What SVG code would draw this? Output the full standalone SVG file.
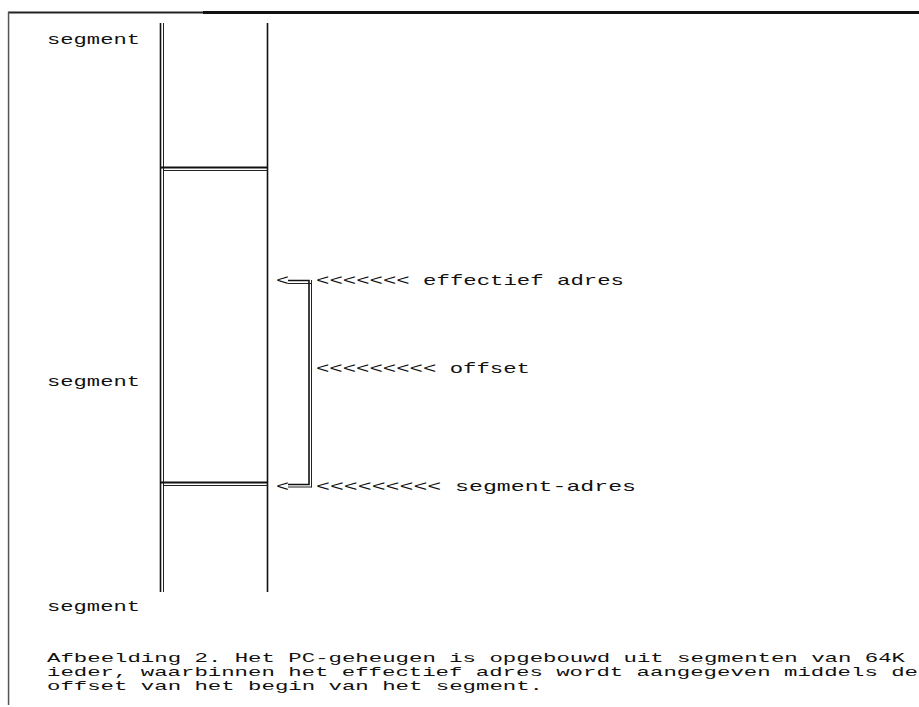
<svg xmlns="http://www.w3.org/2000/svg" width="919" height="707" viewBox="0 0 919 707">
  <style>
    .t { font-family: "Liberation Mono", "DejaVu Sans Mono", monospace; font-size: 15px; fill: #111; }
    .cap { font-size: 13.5px; }
    .ln { stroke: #111; fill: none; }
    .thin { stroke: #222; stroke-width: 1; fill: none; }
  </style>
  <rect width="919" height="707" fill="#fff"/>

  <!-- page frame -->
  <g id="frame">
    <rect x="8" y="11.5" width="197" height="2" fill="#222"/>
    <rect x="203" y="11" width="716" height="3" fill="#111"/>
    <rect x="7.8" y="12" width="1.5" height="693" fill="#555"/>
  </g>

  <!-- memory column with segment boundaries -->
  <g id="memory">
    <line class="ln" x1="160.5" y1="23" x2="160.5" y2="592" stroke-width="1.6"/>
    <line class="thin" x1="163.5" y1="23" x2="163.5" y2="592"/>
    <line class="ln" x1="267.5" y1="23" x2="267.5" y2="592" stroke-width="1.6"/>
    <line class="ln" x1="161" y1="167.5" x2="268" y2="167.5" stroke-width="1.8"/>
    <line class="thin" x1="163" y1="170.5" x2="268" y2="170.5"/>
    <line class="ln" x1="161" y1="482.5" x2="268" y2="482.5" stroke-width="1.8"/>
    <line class="thin" x1="163" y1="485.5" x2="268" y2="485.5"/>
  </g>

  <!-- segment labels -->
  <g id="label-segment-1"><text class="t" x="47" y="44" textLength="93" lengthAdjust="spacingAndGlyphs">segment</text></g>
  <g id="label-segment-2"><text class="t" x="47" y="386" textLength="93" lengthAdjust="spacingAndGlyphs">segment</text></g>
  <g id="label-segment-3"><text class="t" x="47" y="611" textLength="93" lengthAdjust="spacingAndGlyphs">segment</text></g>

  <!-- offset bracket -->
  <g id="connectors">
    <path class="ln" d="M288 280.5 H309 V484.5 H288" stroke-width="1.6"/>
    <path class="thin" d="M288 283.5 H311.5 M311.5 280 V487.5 M288 487 H311.5"/>
  </g>

  <!-- annotations -->
  <g id="effectief-adres">
    <text class="t" x="276" y="285" textLength="13" lengthAdjust="spacingAndGlyphs">&lt;</text>
    <text class="t" x="316" y="285" textLength="308" lengthAdjust="spacingAndGlyphs">&lt;&lt;&lt;&lt;&lt;&lt;&lt; effectief adres</text>
  </g>
  <g id="offset">
    <text class="t" x="316" y="373" textLength="214" lengthAdjust="spacingAndGlyphs">&lt;&lt;&lt;&lt;&lt;&lt;&lt;&lt;&lt; offset</text>
  </g>
  <g id="segment-adres">
    <text class="t" x="276" y="491" textLength="13" lengthAdjust="spacingAndGlyphs">&lt;</text>
    <text class="t" x="316" y="491" textLength="320" lengthAdjust="spacingAndGlyphs">&lt;&lt;&lt;&lt;&lt;&lt;&lt;&lt;&lt; segment-adres</text>
  </g>

  <!-- caption -->
  <g id="caption">
    <text class="t cap" x="47" y="662" textLength="858" lengthAdjust="spacingAndGlyphs">Afbeelding 2. Het PC-geheugen is opgebouwd uit segmenten van 64K</text>
    <text class="t cap" x="47" y="676" textLength="871" lengthAdjust="spacingAndGlyphs">ieder, waarbinnen het effectief adres wordt aangegeven middels de</text>
    <text class="t cap" x="47" y="690" textLength="496" lengthAdjust="spacingAndGlyphs">offset van het begin van het segment.</text>
  </g>
</svg>
